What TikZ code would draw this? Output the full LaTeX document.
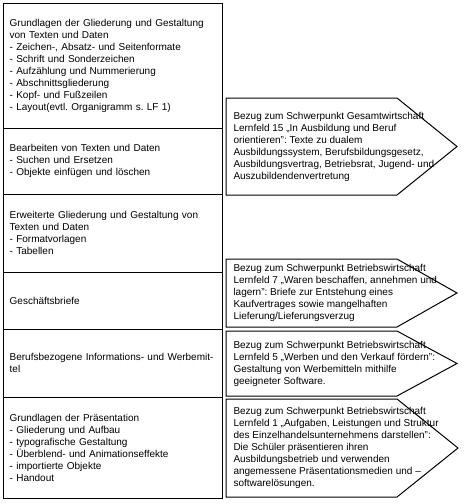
\documentclass[tikz,border=0pt]{standalone}
\usepackage{fontspec}
\setmainfont{Liberation Sans}
\usetikzlibrary{positioning}
\frenchspacing

\tikzset{every picture/.style={line width=0.75pt}}
\tikzset{
  thema/.style={draw, rectangle, outer sep=0pt, inner xsep=5pt, minimum width=164.25pt, text width=154.25pt, align=left, font=\fontsize{7.5}{9}\selectfont},
  bezug/.style={anchor=west, inner sep=0pt, align=left, font=\fontsize{7.5}{9}\selectfont}
}

\begin{document}
\begin{tikzpicture}[x=0.75pt,y=0.75pt,yscale=-1,xscale=1]
    \useasboundingbox (0,0) rectangle (469,504);
    
    % Text Node
    \node [thema, minimum height=93.75pt, anchor=north west] (grundlagen) at (3,3) {Grundlagen der Gliederung und Gestaltung\\von Texten und Daten\\- Zeichen-, Absatz- und Seitenformate\\- Schrift und Sonderzeichen\\- Aufzählung und Nummerierung\\- Abschnittsgliederung\\- Kopf- und Fußzeilen\\- Layout(evtl. Organigramm s. LF 1)};
    % Text Node
    \node [thema, minimum height=49.5pt, below=0pt of grundlagen] (bearbeiten) {Bearbeiten von Texten und Daten\\- Suchen und Ersetzen\\- Objekte einfügen und löschen};
    % Text Node
    \node [thema, minimum height=58.5pt, below=0pt of bearbeiten] (erweitert) {Erweiterte Gliederung und Gestaltung von\\Texten und Daten\\- Formatvorlagen\\- Tabellen};
    % Text Node
    \node [thema, minimum height=42.75pt, below=0pt of erweitert] (briefe) {Geschäftsbriefe};
    % Text Node
    \node [thema, minimum height=51pt, below=0pt of briefe] (werbemittel) {Berufsbezogene Informations- und Werbemit-\\tel};
    % Text Node
    \node [thema, minimum height=75.75pt, below=0pt of werbemittel] (praesentation) {Grundlagen der Präsentation\\- Gliederung und Aufbau\\- typografische Gestaltung\\- Überblend- und Animationseffekte\\- importierte Objekte\\- Handout};
    
    %Shape: Arrow
    \draw (226,98) -- (397,98) -- (457,146.5) -- (397,195) -- (226,195) -- cycle ;
    %Shape: Arrow
    \draw (226,259) -- (397,259) -- (457,293) -- (397,327) -- (226,327) -- cycle ;
    %Shape: Arrow
    \draw (226,331) -- (397,331) -- (457,363.5) -- (397,396) -- (226,396) -- cycle ;
    %Shape: Arrow
    \draw (226,399) -- (397,399) -- (458,448) -- (397,497) -- (226,497) -- cycle ;
    
    % Text Node
    \node [bezug] (gesamt) at (233,146.5) {Bezug zum Schwerpunkt Gesamtwirtschaft\\Lernfeld 15 „In Ausbildung und Beruf\\orientieren": Texte zu dualem\\Ausbildungssystem, Berufsbildungsgesetz,\\Ausbildungsvertrag, Betriebsrat, Jugend- und\\Auszubildendenvertretung};
    % Text Node
    \node [bezug] (waren) at (233,293) {Bezug zum Schwerpunkt Betriebswirtschaft\\Lernfeld 7 „Waren beschaffen, annehmen und\\lagern": Briefe zur Entstehung eines\\Kaufvertrages sowie mangelhaften\\Lieferung/Lieferungsverzug};
    % Text Node
    \node [bezug] (werben) at (233,363.5) {Bezug zum Schwerpunkt Betriebswirtschaft\\Lernfeld 5 „Werben und den Verkauf fördern":\\Gestaltung von Werbemitteln mithilfe\\geeigneter Software.};
    % Text Node
    \node [bezug] (aufgaben) at (233,448) {Bezug zum Schwerpunkt Betriebswirtschaft\\Lernfeld 1 „Aufgaben, Leistungen und Struktur\\des Einzelhandelsunternehmens darstellen":\\Die Schüler präsentieren ihren\\Ausbildungsbetrieb und verwenden\\angemessene Präsentationsmedien und –\\softwarelösungen.};
    
\end{tikzpicture}
\end{document}
